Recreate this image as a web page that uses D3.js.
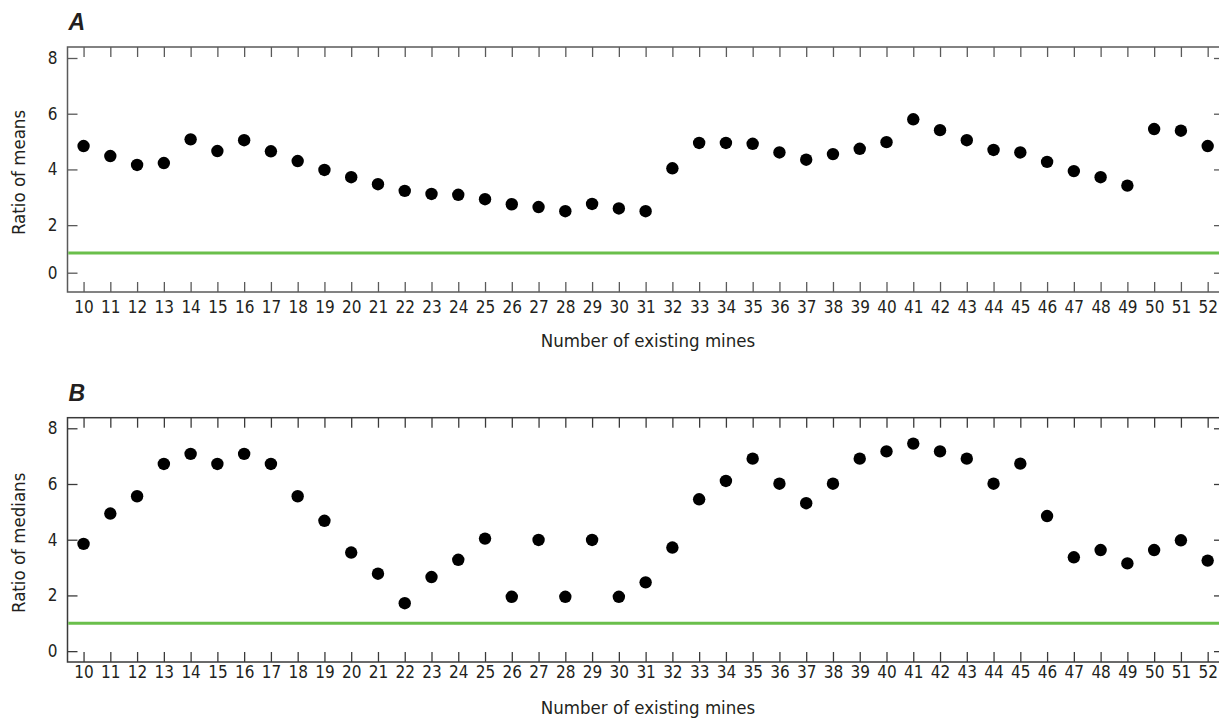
<!DOCTYPE html>
<html>
<head>
<meta charset="utf-8">
<script src="https://cdn.jsdelivr.net/npm/d3@7"></script>
<style>
  body { margin: 0; background: #fff; }
  svg text { font-family: "Liberation Sans Narrow", "Arial Narrow", "DejaVu Sans Condensed", sans-serif; fill: #231f20; }
</style>
</head>
<body>
<div id="chart"></div>
<script>
// number of existing mines (x categories)
const mines = [10, 11, 12, 13, 14, 15, 16, 17, 18, 19, 20, 21, 22, 23, 24, 25, 26, 27, 28, 29, 30,
    31, 32, 33, 34, 35, 36, 37, 38, 39, 40, 41, 42, 43, 44, 45, 46, 47, 48, 49, 50, 51, 52];

// panel A - ratio of means
const ratioMeans = [4.84, 4.48, 4.16, 4.23, 5.08, 4.66, 5.05, 4.65, 4.30, 3.98, 3.72, 3.47, 3.23, 3.12,
    3.09, 2.93, 2.75, 2.65, 2.50, 2.76, 2.60, 2.50, 4.04, 4.95, 4.95, 4.92, 4.61, 4.35, 4.55, 4.74,
    4.98, 5.80, 5.41, 5.05, 4.70, 4.61, 4.27, 3.94, 3.72, 3.42, 5.45, 5.39, 4.84];

// panel B - ratio of medians
const ratioMedians = [3.85, 4.94, 5.56, 6.72, 7.08, 6.72, 7.08, 6.72, 5.56, 4.68, 3.54, 2.78, 1.72, 2.66,
    3.28, 4.04, 1.95, 3.99, 1.95, 3.99, 1.95, 2.47, 3.72, 5.45, 6.11, 6.91, 6.01, 5.31, 6.01, 6.91,
    7.17, 7.45, 7.17, 6.91, 6.01, 6.73, 4.85, 3.37, 3.63, 3.15, 3.63, 3.98, 3.25];

const yTicks = [0, 2, 4, 6, 8];
const referenceValue = 1;

const svg = d3.select('#chart').append('svg')
    .attr('width', 1219)
    .attr('height', 726);

class DotPanel {
    constructor(_config, _data) {
        this.config = {
            top: _config.top,
            bottom: _config.bottom,
            left: 67.5,
            right: 1224,
            letter: _config.letter,
            yTitle: _config.yTitle,
            yDomain: _config.yDomain,
            yRange: _config.yRange,
            xLabelPad: _config.xLabelPad,
            xTitleOffset: _config.xTitleOffset,
            frameColor: _config.frameColor,
            tickLen: 10,
        };
        this.data = _data;
        this.initVis();
    }

    initVis() {
        let vis = this;
        const c = vis.config;

        vis.xScale = d3.scaleLinear()
            .domain([9.4, 52.61])
            .range([c.left, c.right]);

        // piecewise for A so the 0 tick sits where the original artwork puts it
        vis.yScale = d3.scaleLinear()
            .domain(c.yDomain)
            .range(c.yRange);

        vis.g = svg.append('g');

        // frame
        vis.g.append('rect')
            .attr('x', c.left)
            .attr('y', c.top)
            .attr('width', c.right - c.left)
            .attr('height', c.bottom - c.top)
            .attr('fill', 'none')
            .attr('stroke', c.frameColor)
            .attr('stroke-width', 1.5);

        // ticks on all four sides, pointing in
        const xBottom = d3.axisBottom(vis.xScale).tickValues(mines).tickSize(-c.tickLen)
            .tickPadding(c.xLabelPad).tickFormat(d3.format('d'));
        const xTop = d3.axisTop(vis.xScale).tickValues(mines).tickSize(-c.tickLen).tickFormat('');
        vis.g.append('g').attr('transform', `translate(0,${c.bottom})`).call(xBottom).call(vis.styleAxis, vis);
        vis.g.append('g').attr('transform', `translate(0,${c.top})`).call(xTop).call(vis.styleAxis, vis);

        const yLeft = d3.axisLeft(vis.yScale).tickValues(yTicks).tickSize(-c.tickLen).tickPadding(10);
        const yRight = d3.axisRight(vis.yScale).tickValues(yTicks).tickSize(-c.tickLen).tickFormat('');
        vis.g.append('g').attr('transform', `translate(${c.left},0)`).call(yLeft).call(vis.styleAxis, vis);
        vis.g.append('g').attr('transform', `translate(${c.right},0)`).call(yRight).call(vis.styleAxis, vis);

        // titles
        vis.g.append('text')
            .attr('x', 648)
            .attr('y', c.bottom + c.xTitleOffset)
            .attr('text-anchor', 'middle')
            .attr('font-size', '18.5px')
            .text('Number of existing mines');

        vis.g.append('text')
            .attr('transform', `translate(25,${(c.top + c.bottom) / 2 + 3}) rotate(-90)`)
            .attr('text-anchor', 'middle')
            .attr('font-size', '18.5px')
            .text(c.yTitle);

        vis.g.append('text')
            .attr('x', c.left + 1)
            .attr('y', c.top - 17)
            .attr('font-size', '23px')
            .attr('font-weight', 'bold')
            .attr('font-style', 'italic')
            .style('font-family', 'Liberation Sans, Arial, sans-serif')
            .text(c.letter);

        vis.renderVis();
    }

    styleAxis(sel, vis) {
        sel.select('.domain').remove();
        sel.selectAll('.tick line')
            .attr('stroke', vis.config.frameColor)
            .attr('stroke-width', 1.3);
        sel.selectAll('.tick text')
            .attr('font-size', '17px')
            .attr('fill', '#231f20');
        sel.attr('font-family', null);
    }

    renderVis() {
        let vis = this;
        const c = vis.config;

        // reference line at ratio 1
        vis.g.append('line')
            .attr('x1', c.left + 0.75)
            .attr('x2', 1219)
            .attr('y1', vis.yScale(referenceValue))
            .attr('y2', vis.yScale(referenceValue))
            .attr('stroke', '#6abf4b')
            .attr('stroke-width', 3);

        vis.g.append('g').selectAll('circle')
            .data(vis.data)
            .join('circle')
            .attr('cx', d => vis.xScale(d.x))
            .attr('cy', d => vis.yScale(d.y))
            .attr('r', 6.2)
            .attr('fill', '#000');
    }
}

const panelA = new DotPanel({
    top: 47,
    bottom: 292,
    letter: 'A',
    yTitle: 'Ratio of means',
    yDomain: [-0.42, 0, 1, 8, 8.4],
    yRange: [292, 272.7, 253, 58, 47],
    xLabelPad: 9,
    xTitleOffset: 55,
    frameColor: '#5a5a5a',
}, mines.map((m, i) => ({x: m, y: ratioMeans[i]})));

const panelB = new DotPanel({
    top: 417.7,
    bottom: 662,
    letter: 'B',
    yTitle: 'Ratio of medians',
    yDomain: [-0.39, 8.38],
    yRange: [662, 417.7],
    xLabelPad: 4,
    xTitleOffset: 52,
    frameColor: '#3a3a3a',
}, mines.map((m, i) => ({x: m, y: ratioMedians[i]})));
</script>
</body>
</html>
